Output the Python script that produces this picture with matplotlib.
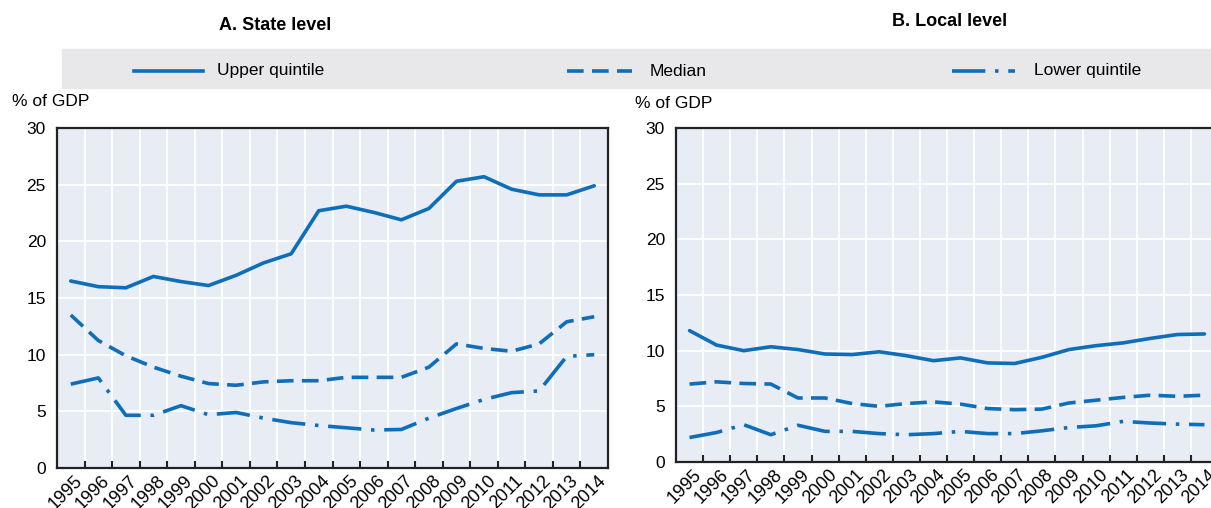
import matplotlib.pyplot as plt
from matplotlib import font_manager
from matplotlib.lines import Line2D
from matplotlib.transforms import ScaledTranslation

years = [str(y) for y in range(1995, 2015)]

# state level, % of GDP
state_upper = [16.5, 16.0, 15.9, 16.9, 16.45, 16.1, 17.0, 18.1, 18.9, 22.7,
               23.1, 22.55, 21.9, 22.9, 25.3, 25.7, 24.6, 24.1, 24.1, 24.9]
state_median = [13.5, 11.25, 9.9, 8.9, 8.1, 7.45, 7.3, 7.6, 7.7, 7.7,
                8.0, 8.0, 8.0, 8.9, 10.95, 10.55, 10.3, 10.95, 12.9, 13.35]
state_lower = [7.4, 7.95, 4.65, 4.65, 5.5, 4.7, 4.9, 4.4, 4.0, 3.75,
               3.55, 3.35, 3.4, 4.4, 5.25, 6.05, 6.65, 6.8, 9.85, 10.0]

# local level, % of GDP
local_upper = [11.8, 10.5, 10.0, 10.35, 10.1, 9.7, 9.65, 9.9, 9.55, 9.1,
               9.35, 8.9, 8.85, 9.4, 10.1, 10.45, 10.7, 11.1, 11.45, 11.5]
local_median = [7.0, 7.2, 7.05, 7.0, 5.75, 5.75, 5.25, 5.0, 5.25, 5.4,
                5.2, 4.8, 4.7, 4.75, 5.3, 5.55, 5.8, 6.0, 5.9, 6.0]
local_lower = [2.2, 2.65, 3.35, 2.45, 3.3, 2.75, 2.75, 2.55, 2.45, 2.55,
               2.75, 2.55, 2.55, 2.8, 3.1, 3.25, 3.65, 3.5, 3.4, 3.35]

series_labels = ["Upper quintile", "Median", "Lower quintile"]

names = {f.name for f in font_manager.fontManager.ttflist}
fam = "Liberation Sans Narrow" if "Liberation Sans Narrow" in names else "Liberation Sans"
plt.rcParams['font.family'] = [fam, 'DejaVu Sans']
plt.rcParams['lines.scale_dashes'] = False

blue = '#0E6EB8'
bg = '#E8ECF5'
lw = 2.6
styles = ['-', (0, (12, 6)), (0, (24, 7, 2.5, 7))]

fig = plt.figure(figsize=(12.11, 5.08), dpi=100)
ax1 = fig.add_axes([57 / 1211, 1 - 468 / 508, 551 / 1211, 340 / 508])
ax2 = fig.add_axes([676 / 1211, 1 - 462 / 508, 542 / 1211, 334 / 508])

panels = [
    (ax1, [state_upper, state_median, state_lower]),
    (ax2, [local_upper, local_median, local_lower]),
]

x = list(range(len(years)))
shift = ScaledTranslation(3 / 100, 0, fig.dpi_scale_trans)
for ax, data in panels:
    ax.set_facecolor(bg)
    for vals, ls in zip(data, styles):
        ax.plot(x, vals, color=blue, lw=lw, linestyle=ls, solid_capstyle='round')
    ax.set_xlim(-0.5, len(years) - 0.5)
    ax.set_ylim(0, 30)
    ax.set_yticks(range(0, 31, 5))
    # gridlines and tick marks sit on the category boundaries
    ax.set_xticks([i + 0.5 for i in range(len(years) - 1)])
    ax.set_xticklabels([])
    ax.set_xticks(x, minor=True)
    ax.set_xticklabels(years, minor=True, rotation=45, ha='right',
                       rotation_mode='anchor', fontsize=13)
    ax.tick_params(axis='x', which='minor', length=0, pad=3)
    ax.tick_params(axis='x', which='major', direction='in', length=5,
                   width=1.5, color='#222222')
    ax.tick_params(axis='y', length=0, labelsize=12.5, pad=8)
    ax.grid(True, which='major', color='white', lw=1.3)
    ax.set_axisbelow(True)
    for side in ax.spines.values():
        side.set_linewidth(1.6)
        side.set_color('#222222')
    for lab in ax.get_xticklabels(minor=True):
        lab.set_transform(lab.get_transform() + shift)

fig.text(12 / 1211, 1 - 102 / 508, "% of GDP", fontsize=12.5, va='center')
fig.text(635 / 1211, 1 - 103 / 508, "% of GDP", fontsize=12.5, va='center')

fig.text(275 / 1211, 1 - 26 / 508, "A. State level", fontsize=13, fontweight='bold',
         ha='center', va='center')
fig.text(950 / 1211, 1 - 21 / 508, "B. Local level", fontsize=13, fontweight='bold',
         ha='center', va='center')

# legend band across the top
band = plt.Rectangle((62 / 1211, 1 - 88 / 508), 1 - 62 / 1211, 39 / 508,
                     transform=fig.transFigure, color='#E8E8EA', zorder=0)
fig.patches.append(band)
leg_x = [(134, 203, 217), (567, 632, 650), (952, 1015, 1034)]
for (x0, x1, tx), ls, lab in zip(leg_x, styles, series_labels):
    yy = 1 - 71 / 508
    fig.add_artist(Line2D([x0 / 1211, x1 / 1211], [yy, yy], color=blue, lw=lw,
                          linestyle=ls, transform=fig.transFigure))
    fig.text(tx / 1211, yy, lab, fontsize=12.5, va='center')

fig.savefig('out.png', dpi=100)
